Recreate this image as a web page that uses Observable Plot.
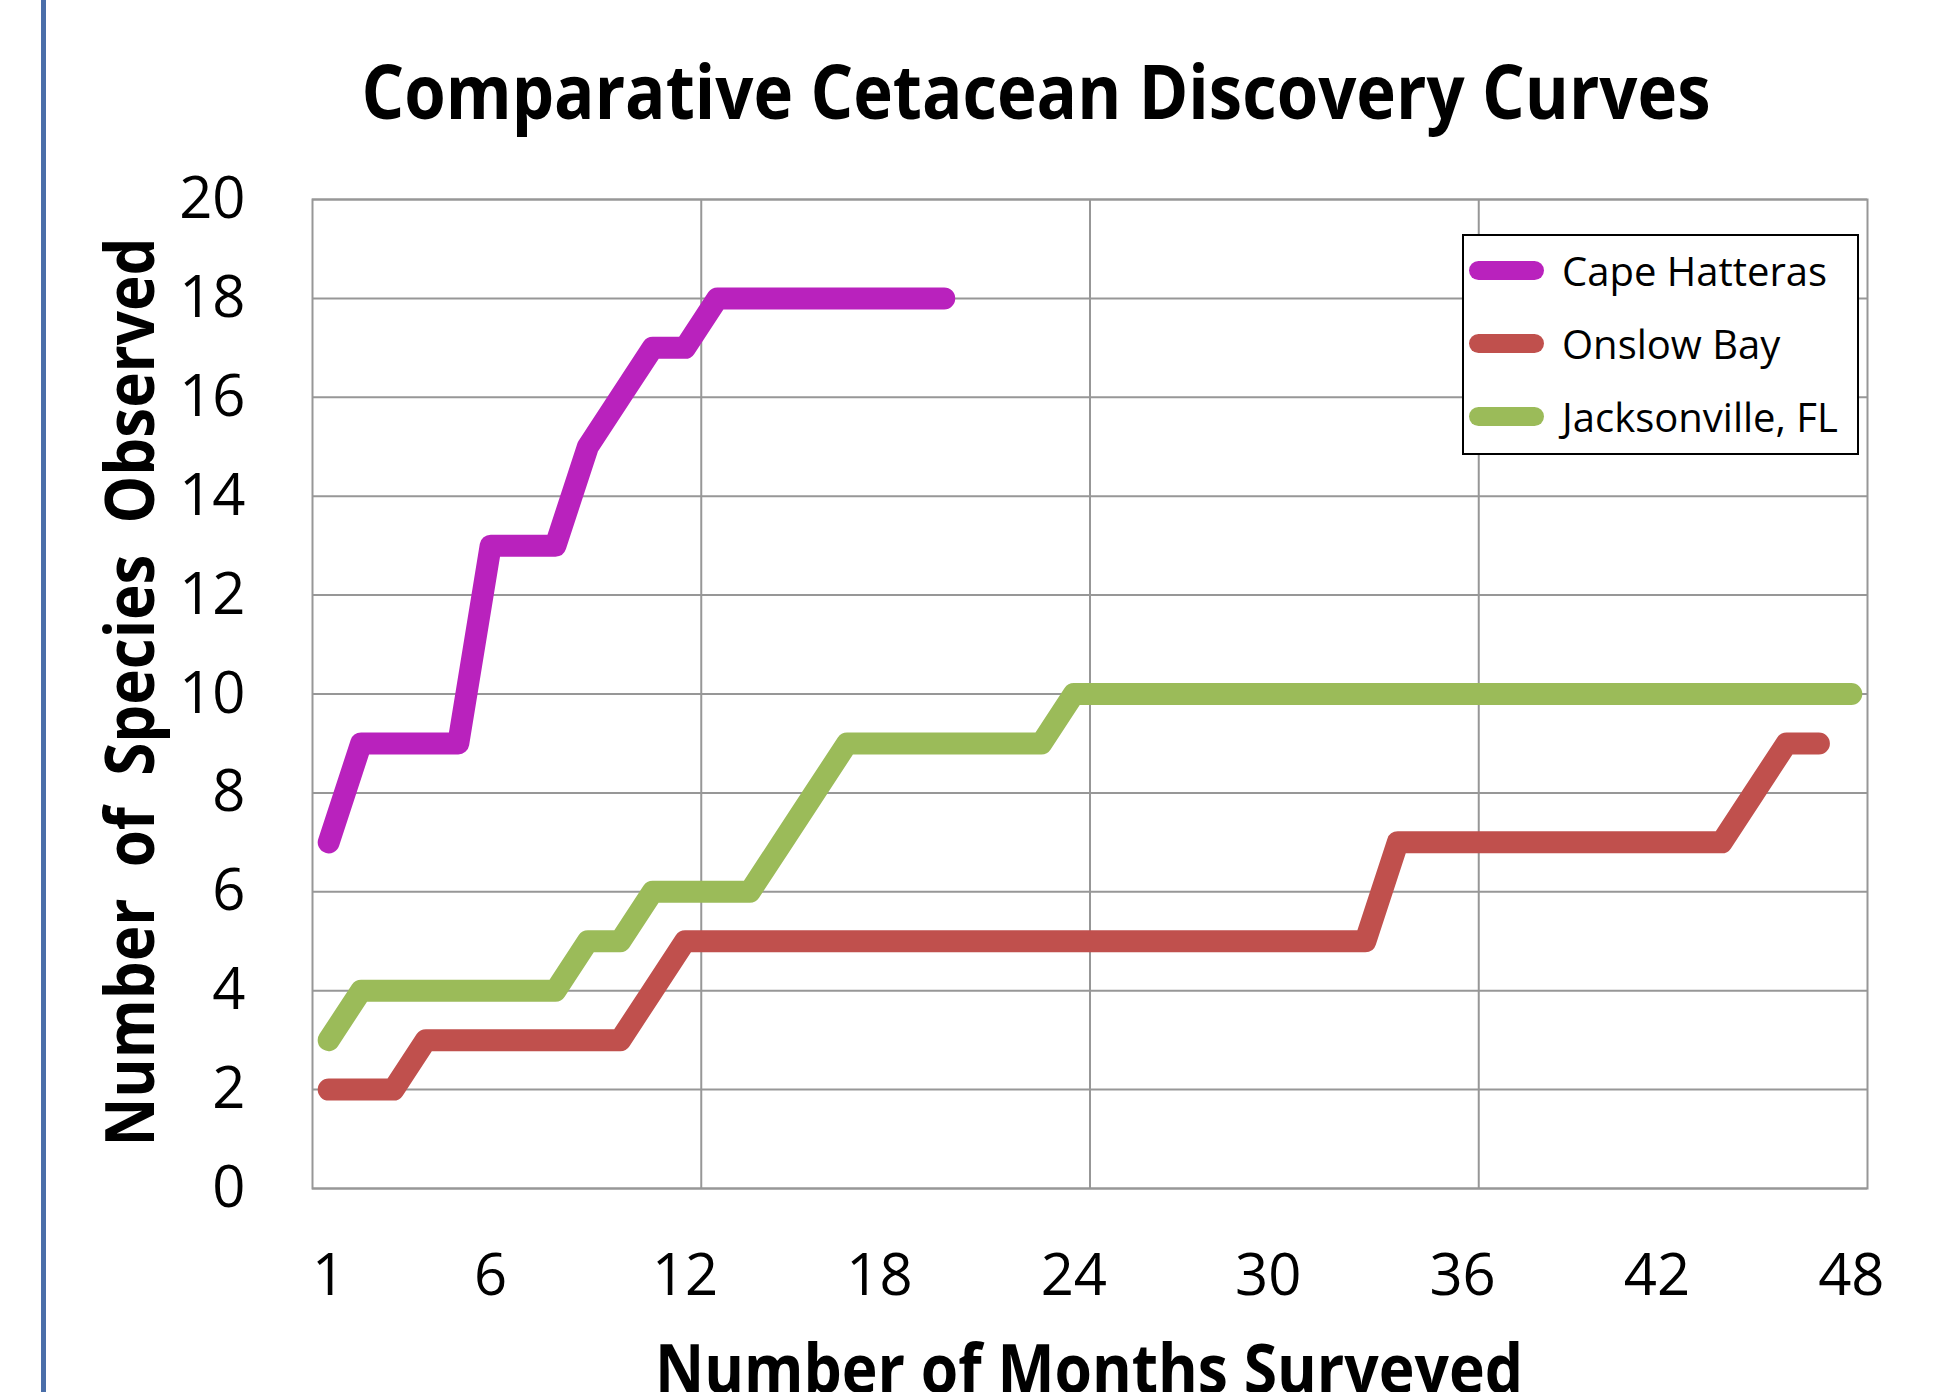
<!DOCTYPE html>
<html><head><meta charset="utf-8">
<script src="https://cdn.jsdelivr.net/npm/d3@7"></script>
<script src="https://cdn.jsdelivr.net/npm/@observablehq/plot@0.6"></script>
<style>
html,body{margin:0;padding:0;background:#fff;}
#wrap{position:relative;width:1958px;height:1392px;overflow:hidden;background:#fff;font-family:"Open Sans",sans-serif;}
#rule{position:absolute;left:41px;top:0;width:5px;height:1392px;background:#4a6ea9;z-index:5;}
.t{position:absolute;left:0;top:0;white-space:pre;line-height:1;font-weight:700;color:#000;}
#chart{position:absolute;left:0;top:150px;}
#legend{position:absolute;left:1462px;top:234px;width:393px;height:217px;border:2px solid #000;background:#fff;}
.row{position:absolute;left:5px;height:50px;display:flex;align-items:center;font-size:40px;color:#000;white-space:nowrap;}
.sw{width:75px;height:19px;border-radius:10px;margin-right:18px;}
</style>
</head><body>
<div id="wrap">
  <div id="title" class="t" style="font-size:75px">Comparative Cetacean Discovery Curves</div>
  <div id="chart"></div>
  <div id="ytitle" class="t" style="font-size:68px">Number  of  Species  Observed</div>
  <div id="xtitle" class="t" style="font-size:68px">Number of Months Surveyed</div>
  <div id="legend"></div>
  <div id="rule"></div>
</div>
<script>
// ---- data ----
const seriesNames = ["Cape Hatteras", "Onslow Bay", "Jacksonville, FL"];
const seriesColors = ["#b922bd", "#c0504d", "#9bbb59"];
const capeHatteras = [7, 9, 9, 9, 9, 13, 13, 13, 15, 16, 17, 17, 18, 18, 18, 18, 18, 18, 18, 18];
const onslowBay = [2, 2, 2, 3, 3, 3, 3, 3, 3, 3, 4, 5, 5, 5, 5, 5, 5, 5, 5, 5, 5, 5, 5, 5, 5, 5, 5, 5, 5, 5, 5, 5, 5, 7, 7, 7, 7, 7, 7, 7, 7, 7, 7, 7, 8, 9, 9];
const jacksonville = [3, 4, 4, 4, 4, 4, 4, 4, 5, 5, 6, 6, 6, 6, 7, 8, 9, 9, 9, 9, 9, 9, 9, 10, 10, 10, 10, 10, 10, 10, 10, 10, 10, 10, 10, 10, 10, 10, 10, 10, 10, 10, 10, 10, 10, 10, 10, 10];
const xTicks = [1, 6, 12, 18, 24, 30, 36, 42, 48];
const yTicks = [0, 2, 4, 6, 8, 10, 12, 14, 16, 18, 20];
const xGroupBounds = [12.5, 24.5, 36.5];

const seriesValues = [capeHatteras, onslowBay, jacksonville];
const rows = [];
seriesValues.forEach((vals, i) => vals.forEach((v, j) => rows.push({series: seriesNames[i], month: j + 1, value: v})));

const gridColor = "#979797";
const plot = Plot.plot({
  width: 1958,
  height: 1242,
  marginLeft: 312,
  marginRight: 91,
  marginTop: 49,
  marginBottom: 204,
  style: {fontFamily: "'Open Sans', sans-serif", color: "#000", background: "transparent", overflow: "visible"},
  x: {domain: [0.5, 48.5]},
  y: {domain: [0, 20]},
  color: {domain: seriesNames, range: seriesColors},
  marks: [
    Plot.gridY({ticks: yTicks, stroke: gridColor, strokeOpacity: 1, strokeWidth: 2}),
    Plot.gridX({ticks: xGroupBounds, stroke: gridColor, strokeOpacity: 1, strokeWidth: 2}),
    Plot.frame({stroke: gridColor, strokeWidth: 2}),
    Plot.axisY({ticks: yTicks, tickSize: 0, tickPadding: 67, fontSize: 58, label: null, tickFormat: d => String(d)}),
    Plot.axisX({ticks: xTicks, tickSize: 0, tickPadding: 65, fontSize: 58, label: null, tickFormat: d => String(d)}),
    Plot.line(rows, {x: "month", y: "value", z: "series", stroke: "series", strokeWidth: 22, strokeLinecap: "round", strokeLinejoin: "round"})
  ]
});
document.getElementById("chart").appendChild(plot);

// legend
const leg = document.getElementById("legend");
const rowCenters = [34, 107, 180];
seriesNames.forEach((name, i) => {
  const r = document.createElement("div");
  r.className = "row";
  r.style.top = (rowCenters[i] - 25) + "px";
  r.innerHTML = `<div class="sw" style="background:${seriesColors[i]}"></div><span>${name}</span>`;
  leg.appendChild(r);
});

function fit(id, cx, cy, w, rot) {
  const el = document.getElementById(id);
  el.style.transform = "none";
  const nat = el.getBoundingClientRect().width;
  const s = w / nat;
  el.style.left = cx + "px";
  el.style.top = cy + "px";
  el.style.transform = `translate(-50%,-50%) rotate(${rot}deg) scaleX(${s})`;
}
function layout() {
  fit("title", 1036, 90, 1349, 0);
  fit("ytitle", 128, 692, 909, -90);
  fit("xtitle", 1089, 1367, 868, 0);
}
layout();
if (document.fonts && document.fonts.ready) document.fonts.ready.then(layout);
</script>
</body></html>
